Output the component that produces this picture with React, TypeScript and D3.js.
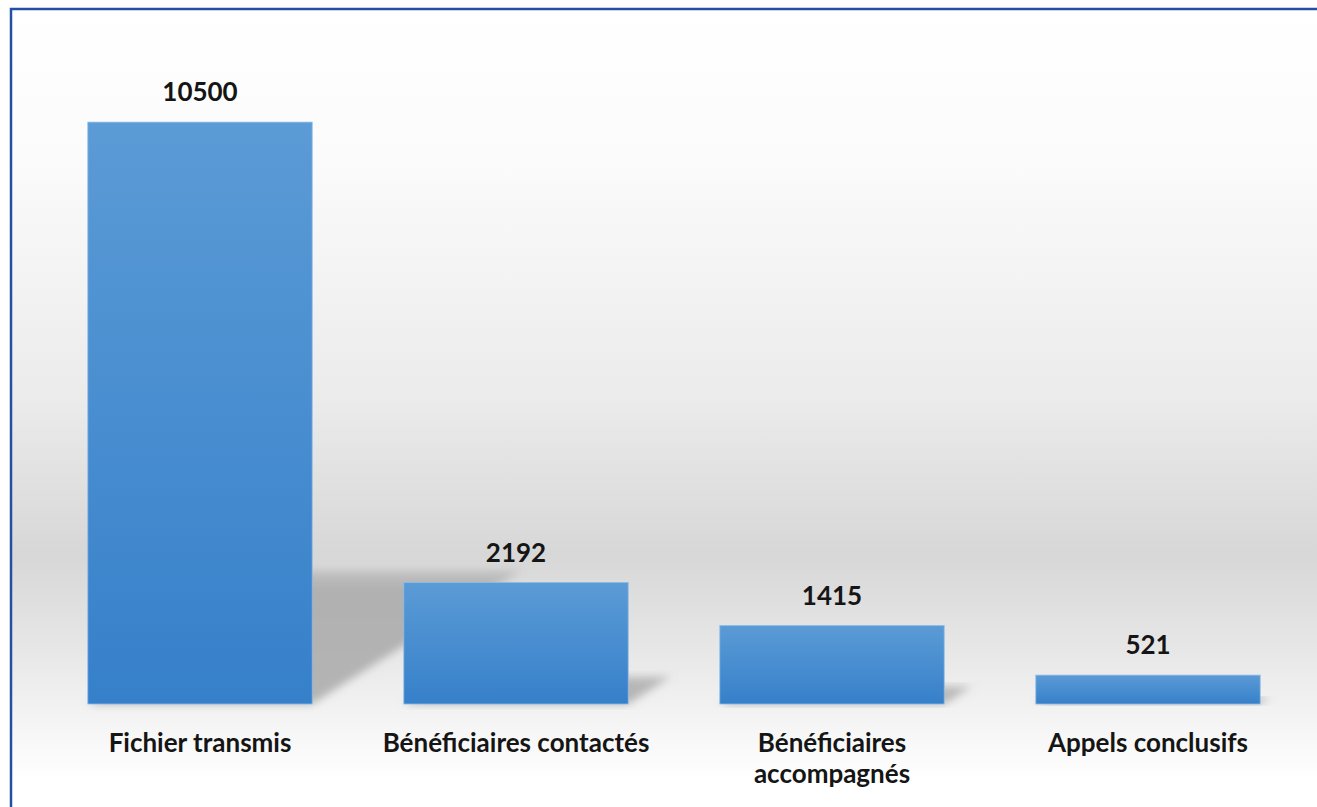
import React from 'react';
import * as d3 from 'd3';

const categories = [
  ['Fichier transmis'],
  ['Bénéficiaires contactés'],
  ['Bénéficiaires', 'accompagnés'],
  ['Appels conclusifs'],
];
const values = [10500, 2192, 1415, 521];

const W = 1317;
const H = 807;
const font = "Lato, 'Open Sans', sans-serif";

const App = () => {
  const keys = categories.map(c => c.join(' '));
  const x = d3.scaleBand().domain(keys).range([42, 1306]).paddingInner(0.29).paddingOuter(0.145);
  const y = d3.scaleLinear().domain([0, 12000]).range([704, 39]);
  const base = y(0);

  // perspective shadow behind each bar, leaning up and to the right
  const shadow = (i: number) => {
    const x0 = x(keys[i]) as number;
    const x1 = x0 + x.bandwidth();
    const h = base - y(values[i]);
    const dx = h * 0.36;
    const dy = h * 0.23;
    return d3.line()([
      [x0, base],
      [x1, base],
      [x1 + dx, base - dy],
      [x0 + dx, base - dy],
    ]) + 'Z';
  };

  return (
    <svg width={W} height={H} style={{ position: 'absolute', left: 0, top: 0 }}>
      <defs>
        <linearGradient id="bg" x1="0" y1="0" x2="0" y2={H} gradientUnits="userSpaceOnUse">
          <stop offset={10 / H} stopColor="#ffffff" />
          <stop offset={160 / H} stopColor="#fbfbfb" />
          <stop offset={400 / H} stopColor="#ebebeb" />
          <stop offset={555 / H} stopColor="#d7d7d7" />
          <stop offset={650 / H} stopColor="#e7e7e7" />
          <stop offset={720 / H} stopColor="#f4f4f4" />
          <stop offset={780 / H} stopColor="#ffffff" />
        </linearGradient>
        <linearGradient id="bar" x1="0" y1="0" x2="0" y2="1">
          <stop offset="0" stopColor="#5b9bd6" />
          <stop offset="1" stopColor="#3680ca" />
        </linearGradient>
        <linearGradient id="shd" x1="0" y1="1" x2="0" y2="0">
          <stop offset="0" stopColor="#8c8c8c" stopOpacity={0.6} />
          <stop offset="0.85" stopColor="#8c8c8c" stopOpacity={0.55} />
          <stop offset="1" stopColor="#8c8c8c" stopOpacity={0.3} />
        </linearGradient>
        <filter id="blur" x="-20%" y="-20%" width="140%" height="140%">
          <feGaussianBlur stdDeviation="4" />
        </filter>
      </defs>
      <rect x={0} y={0} width={W} height={H} fill="#ffffff" />
      <rect x={11} y={9} width={W + 20} height={H + 20} fill="url(#bg)" stroke="#2350a3" strokeWidth={2.5} />

      {values.map((v, i) => (
        <path key={'s' + i} d={shadow(i)} fill="url(#shd)" filter="url(#blur)" />
      ))}

      {values.map((v, i) => (
        <rect
          key={'b' + i}
          x={x(keys[i])}
          y={y(v)}
          width={x.bandwidth()}
          height={base - y(v)}
          fill="url(#bar)"
          stroke="#8dbbe6"
          strokeWidth={0.8}
        />
      ))}

      {values.map((v, i) => (
        <text
          key={'v' + i}
          x={(x(keys[i]) as number) + x.bandwidth() / 2}
          y={y(v) - 21}
          textAnchor="middle"
          fontFamily={font}
          fontWeight={700}
          fontSize={26}
          fill="#151515"
        >
          {v}
        </text>
      ))}

      {categories.map((lines, i) => (
        <text
          key={'c' + i}
          x={(x(keys[i]) as number) + x.bandwidth() / 2}
          y={752}
          textAnchor="middle"
          fontFamily={font}
          fontWeight={700}
          fontSize={26}
          fill="#151515"
        >
          {lines.map((l, j) => (
            <tspan key={j} x={(x(keys[i]) as number) + x.bandwidth() / 2} dy={j === 0 ? 0 : 31}>
              {l}
            </tspan>
          ))}
        </text>
      ))}
    </svg>
  );
};

export default App;
